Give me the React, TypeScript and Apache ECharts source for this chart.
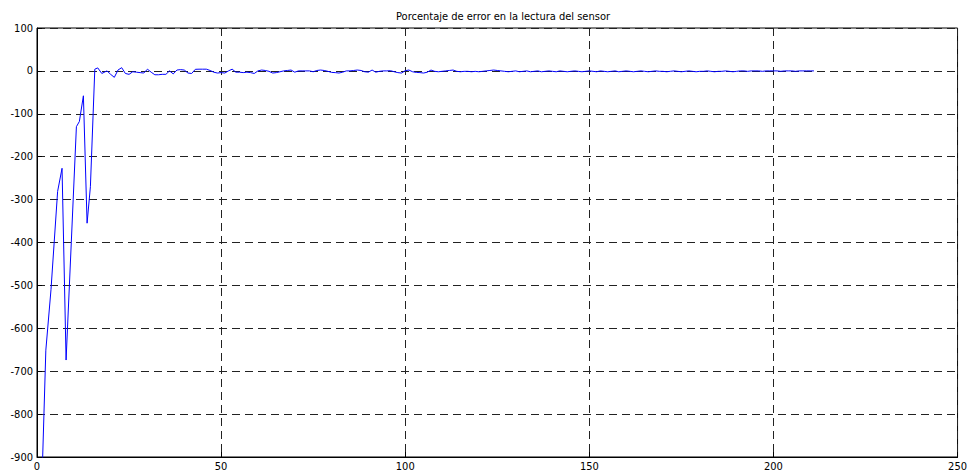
import React, { useEffect, useRef } from "react";
import * as echarts from "echarts";

const titleText = "Porcentaje de error en la lectura del sensor";

// Transient start (x, value) vertices
const startX = [1.3, 2.4, 3.8, 5.6, 6.8, 7.9, 10.7, 11.5, 12.6, 13.6, 14.5, 15.7, 16.5, 17.6];
const startY = [-970, -651, -510, -281, -227, -674, -130, -118, -58, -355, -270, 4, 7, -6];

// Steady part: one value per unit of x, starting at x = 19
const steadyStart = 19;
const steadyY = [
  0, -8, -15, 2, 7.5, -6, -8, -2, -3, -4, -5, 4, -3, -9, -9, -8, -8, 0, -7, 2,
  3, 2, -5, -6, 3.7, 4, 4, 4, 1, -3, -5, -4, -5, 0, 4, -3, -3, -4, -3, -4,
  -6, 0, 2, 1, -1, -5, -4, -2, 0, 1, 2, -3, 0, 0, 0, 0, -2, 1, 2, 1,
  -1, -3.5, -4, -5, -3, 0, 0, 1, 2, 1, -2, -3, 2, -3, -1, 0, 0, 0.5, -2, -4,
  -5, 0.5, 2, -2, -3.5, -4, -5, -3, 2, -1, -2, -1, 0, 1, 2, -1, -2, -1, -1, -2,
  -1, -2, -1, 0, 1, 2, 1, 0, -1, -2, -1, 0, -2, -1, 0, -2, -1, 0, -2, -1,
  0, -1, -2, 0, -1, -2, -1, 0, -1, -2, -1, 0, -1, -2, 0, -1, -2, -1, 0, -2,
  -1, 0, -1, -2, -1, 0, -1, -2, -1, 0, -1, -1, -2, -1, 0, -1, -2, -1, 0, -1,
  -2, -1, -1, 0, -1, -2, -1, -1, 0, -1, -2, -1, 0, 0, -1, 0, 0, 0, -1, 0,
  0, 0, 0, -1, 0, 0, 0, -1, 0, 0, 0, 0, 0
];

const xMin = 0, xMax = 250, xStep = 50;
const yMin = -900, yMax = 100, yStep = 100;

const fontFamily = "DejaVu Sans Condensed, Liberation Sans Narrow, sans-serif";

export default function App() {
  const ref = useRef<HTMLDivElement>(null);
  useEffect(() => {
    if (!ref.current) return;
    const chart = echarts.init(ref.current, undefined, { renderer: "svg" });
    const data: number[][] = [];
    startX.forEach((x, i) => data.push([x, startY[i]]));
    steadyY.forEach((v, i) => data.push([steadyStart + i, v]));
    const gridLine = { show: true, lineStyle: { color: "#222", type: [8, 5] as any, width: 1 } };
    chart.setOption({
      animation: false,
      backgroundColor: "#fff",
      title: {
        text: titleText,
        left: 498,
        top: 6,
        textAlign: "center",
        textStyle: { fontSize: 11, fontWeight: "normal", color: "#000", fontFamily },
      },
      grid: { left: 37, right: 10, top: 28, bottom: 19, show: true, borderColor: "#000", borderWidth: 1, backgroundColor: "#fff" },
      xAxis: {
        type: "value",
        min: xMin,
        max: xMax,
        interval: xStep,
        axisLine: { show: true, onZero: false, lineStyle: { color: "#000" } },
        axisTick: { show: true, inside: true, length: 5, lineStyle: { color: "#000" } },
        axisLabel: { color: "#000", fontSize: 11, margin: 4, fontFamily },
        splitLine: gridLine,
      },
      yAxis: {
        type: "value",
        min: yMin,
        max: yMax,
        interval: yStep,
        axisLine: { show: true, onZero: false, lineStyle: { color: "#000" } },
        axisTick: { show: true, inside: true, length: 5, lineStyle: { color: "#000" } },
        axisLabel: { color: "#000", fontSize: 11, margin: 4, fontFamily },
        splitLine: gridLine,
      },
      series: [
        {
          type: "line",
          data,
          showSymbol: false,
          symbol: "none",
          clip: true,
          lineStyle: { color: "#0000ff", width: 1 },
          itemStyle: { color: "#0000ff" },
        },
      ],
    });
    return () => chart.dispose();
  }, []);
  return <div ref={ref} style={{ position: "fixed", left: 0, top: 0, width: 970, height: 476 }} />;
}
